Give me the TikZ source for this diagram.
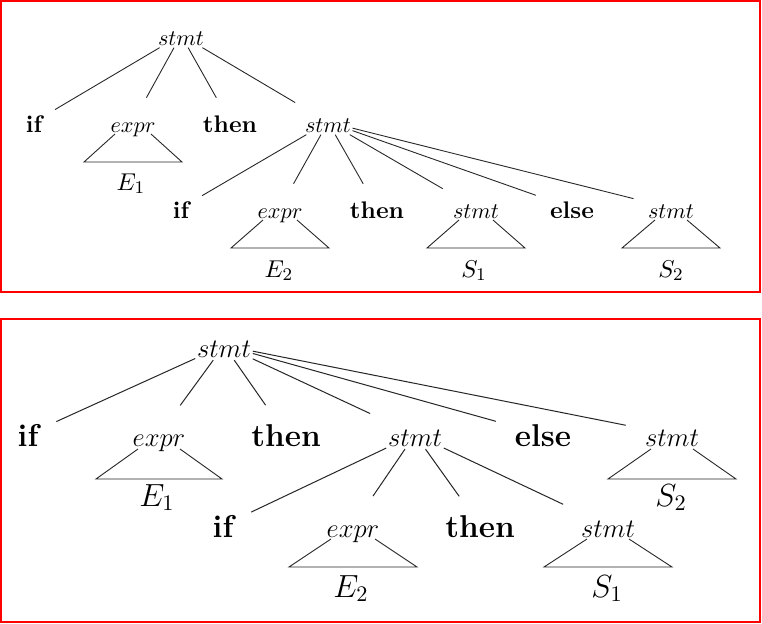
\documentclass[tikz,border=0pt]{standalone}
\begin{document}
\begin{tikzpicture}[x=0.45pt,y=-0.45pt,
  tn/.style={anchor=base, inner sep=0.5pt, text height=9.5pt, text depth=0.5pt, font=\fontsize{10}{12}\selectfont},
  tb/.style={tn, font=\fontsize{10.8}{12}\selectfont\bfseries},
  tl/.style={tn, font=\fontsize{11}{12}\selectfont},
  bn/.style={anchor=base, inner sep=0.6pt, text height=11pt, text depth=0.6pt, font=\fontsize{13}{15}\selectfont},
  bb/.style={bn, font=\fontsize{14.2}{15}\selectfont\bfseries},
  bl/.style={bn, font=\fontsize{14.3}{15}\selectfont},
  te/.style={draw=black!85, line width=0.4pt, shorten >=6pt},
  be/.style={draw=black!85, line width=0.45pt, shorten >=8pt},
  tri/.style={draw=black!85, line width=0.4pt},
  frame/.style={draw=red, line width=1pt}
]
\newcommand\opentri[5]{\draw[tri] ([shift={(-#2,#3)}]#1.base) -- ([shift={(-#4,#5)}]#1.base) -- ([shift={(#4,#5)}]#1.base) -- ([shift={(#2,#3)}]#1.base);}
\useasboundingbox (0,0) rectangle (762,624);
\fill[white] (0,0) rectangle (762,624);
\draw[frame] (1,1) rectangle (760,292);
\draw[frame] (1,319) rectangle (760,622);

% ---------- top panel ----------
\node[tn] (r1) at (181,45) {$stmt$};
\node[tb] (t2if) at (34,132) {if};
\node[tn] (t2ex) at (133,132) {$expr$};
\node[tb] (t2th) at (230,132) {then};
\node[tn] (t2st) at (328,132) {$stmt$};
\node[tl] (tE1) at (131,190) {$E_1$};
\node[tb] (t3if) at (181,218) {if};
\node[tn] (t3ex) at (280,218) {$expr$};
\node[tb] (t3th) at (377,218) {then};
\node[tn] (t3st) at (476,218) {$stmt$};
\node[tb] (t3el) at (572,218) {else};
\node[tn] (t3sb) at (671,218) {$stmt$};
\node[tl] (tE2) at (279,277) {$E_2$};
\node[tl] (tS1) at (474,277) {$S_1$};
\node[tl] (tS2) at (671,277) {$S_2$};

\draw[te] (r1) -- (t2if);
\draw[te] (r1) -- (t2ex);
\draw[te] (r1) -- (t2th);
\draw[te] (r1) -- (t2st);
\draw[te] (t2st) -- (t3if);
\draw[te] (t2st) -- (t3ex);
\draw[te] (t2st) -- (t3th);
\draw[te] (t2st) -- (t3st);
\draw[te] (t2st) -- (t3el);
\draw[te] (t2st) -- (t3sb);
\opentri{t2ex}{18}{2}{49}{30}
\opentri{t3ex}{17}{2}{49}{30}
\opentri{t3st}{17}{2}{49}{30}
\opentri{t3sb}{16}{2}{49}{30}

% ---------- bottom panel ----------
\node[bn] (r2) at (224,357) {$stmt$};
\node[bb] (b2if) at (28,446) {if};
\node[bn] (b2ex) at (159,446) {$expr$};
\node[bb] (b2th) at (286,446) {then};
\node[bn] (b2st) at (415,446) {$stmt$};
\node[bb] (b2el) at (543,446) {else};
\node[bn] (b2sb) at (672,446) {$stmt$};
\node[bl] (bE1) at (157,506) {$E_1$};
\node[bl] (bS2) at (671,506) {$S_2$};
\node[bb] (b3if) at (223,537) {if};
\node[bn] (b3ex) at (353,537) {$expr$};
\node[bb] (b3th) at (480,537) {then};
\node[bn] (b3st) at (608,537) {$stmt$};
\node[bl] (bE2) at (351,597) {$E_2$};
\node[bl] (bS1) at (607,597) {$S_1$};

\draw[be] (r2) -- (b2if);
\draw[be] (r2) -- (b2ex);
\draw[be] (r2) -- (b2th);
\draw[be] (r2) -- (b2st);
\draw[be] (r2) -- (b2el);
\draw[be] (r2) -- (b2sb);
\draw[be] (b2st) -- (b3if);
\draw[be] (b2st) -- (b3ex);
\draw[be] (b2st) -- (b3th);
\draw[be] (b2st) -- (b3st);
\opentri{b2ex}{21}{3}{63}{33}
\opentri{b2sb}{21}{3}{64}{33}
\opentri{b3ex}{22}{2}{64}{30}
\opentri{b3st}{21}{2}{64}{30}
\end{tikzpicture}
\end{document}
